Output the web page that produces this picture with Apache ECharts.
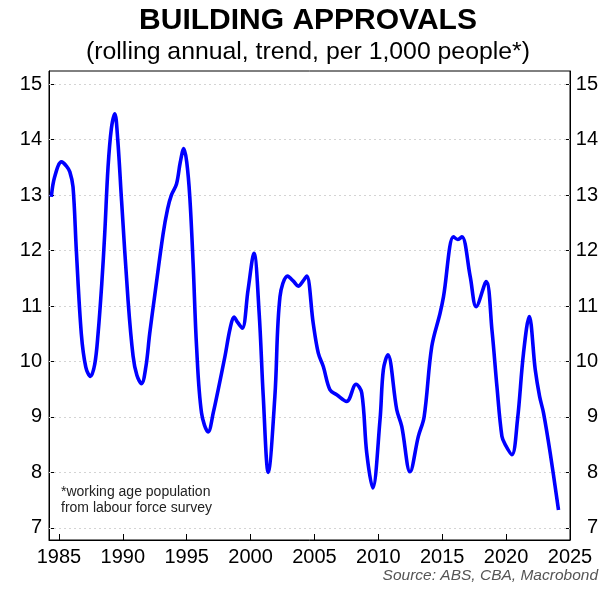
<!DOCTYPE html>
<html>
<head>
<meta charset="utf-8">
<script src="https://cdn.jsdelivr.net/npm/echarts@6/dist/echarts.min.js"></script>
<style>
html,body{margin:0;padding:0;background:#fff;}
#c{width:616px;height:595px;}
</style>
</head>
<body>
<div id="c"></div>
<script>
// Data
const years = [1984.4,1984.66,1985.2,1985.6,1985.85,1986.1,1986.36,1986.75,1987.1,1987.46,1987.8,1988.06,1988.35,1988.58,1988.84,1989.1,1989.37,1989.6,1989.9,1990.41,1990.8,1991.1,1991.46,1991.8,1992.1,1992.5,1993.15,1993.5,1993.8,1994.2,1994.5,1994.77,1995.0,1995.24,1995.5,1995.77,1996.16,1996.68,1997.1,1997.46,1997.99,1998.4,1998.7,1999.0,1999.35,1999.8,2000.26,2000.67,2000.99,2001.38,2001.9,2002.3,2002.9,2003.35,2003.73,2004.1,2004.39,2004.9,2005.3,2005.69,2006.21,2006.74,2007.52,2008.25,2008.7,2009.09,2009.56,2010.13,2010.39,2010.74,2011.44,2011.83,2012.48,2013.13,2013.58,2014.18,2014.83,2015.1,2015.88,2016.22,2016.54,2017.19,2017.66,2018.44,2018.89,2019.28,2019.67,2019.93,2020.45,2020.89,2021.36,2021.81,2022.28,2022.62,2022.93,2023.45,2024.1];
const approvals = [12.97,13.33,13.6,13.52,13.42,13.15,12.0,10.5,9.9,9.73,9.95,10.5,11.4,12.3,13.5,14.2,14.47,14.0,12.9,11.1,10.1,9.75,9.6,9.9,10.5,11.2,12.3,12.75,13.0,13.2,13.6,13.84,13.6,12.97,11.77,10.27,9.07,8.73,9.1,9.49,10.09,10.6,10.8,10.7,10.6,11.29,11.95,10.87,9.37,8.0,9.37,11.17,11.54,11.45,11.36,11.45,11.54,10.69,10.15,9.91,9.49,9.4,9.28,9.59,9.43,8.35,7.72,8.95,9.85,10.12,9.13,8.83,8.01,8.65,9.0,10.27,10.87,11.17,12.25,12.2,12.25,11.53,10.99,11.44,10.57,9.55,8.65,8.5,8.32,8.95,10.15,10.81,9.85,9.37,9.07,8.35,7.32];
const xTicks = [1985,1990,1995,2000,2005,2010,2015,2020,2025];
const yTicks = [7,8,9,10,11,12,13,14,15];

const FONT = '"Liberation Sans", Arial, sans-serif';
const chart = echarts.init(document.getElementById('c'), null, {renderer:'canvas'});

const seriesData = years.map((y,i)=>[y, approvals[i]]);

const yAxisBase = {
  type:'value', min:6.78, max:15.24,
  axisLine:{show:true, lineStyle:{color:'#000', width:1}},
  axisTick:{show:true, inside:true, length:5, customValues:yTicks, lineStyle:{color:'#000'}},
  axisLabel:{customValues:yTicks, color:'#000', fontSize:20, fontFamily:FONT, formatter:v=>String(v)},
  splitLine:{show:false}
};

chart.setOption({
  animation:false,
  backgroundColor:'#fff',
  grid:{left:49, right:46, top:71, bottom:55, show:true, borderColor:'#000', borderWidth:1, containLabel:false},
  xAxis:{
    type:'value', min:1984.22, max:2025,
    axisLine:{show:true, onZero:false, lineStyle:{color:'#000', width:1}},
    axisTick:{show:true, inside:true, length:6, customValues:xTicks, lineStyle:{color:'#000'}},
    axisLabel:{customValues:xTicks, color:'#000', fontSize:20, fontFamily:FONT, margin:7, formatter:v=>String(v)},
    splitLine:{show:false}
  },
  yAxis:[
    Object.assign({}, yAxisBase, {position:'left', axisLabel:Object.assign({}, yAxisBase.axisLabel, {margin:7})}),
    Object.assign({}, yAxisBase, {position:'right', axisLabel:Object.assign({}, yAxisBase.axisLabel, {margin:28, align:'right'})})
  ],
  series:[
    {
      type:'line', data:[], z:1, silent:true,
      markLine:{
        silent:true, symbol:'none', label:{show:false},
        lineStyle:{type:[2,3], color:'#d4d4d4', width:1},
        data: yTicks.map(v=>({yAxis:v}))
      }
    },
    {
      type:'line', data:seriesData, showSymbol:false, smooth:0.35, z:5,
      lineStyle:{color:'#0000ff', width:3.6},
      itemStyle:{color:'#0000ff'}
    }
  ],
  graphic:[
    {type:'text', left:'center', top:6, style:{text:'BUILDING APPROVALS', font:'bold 30px '+FONT, fill:'#000'}},
    {type:'text', left:'center', top:40, style:{text:'(rolling annual, trend, per 1,000 people*)', font:'24.8px '+FONT, fill:'#000'}},
    {type:'text', x:61, y:485, style:{text:'*working age population', font:'14px '+FONT, fill:'#222'}},
    {type:'text', x:61, y:501, style:{text:'from labour force survey', font:'14px '+FONT, fill:'#222'}},
    {type:'text', right:18, top:568, style:{text:'Source: ABS, CBA, Macrobond', font:'italic 15.5px '+FONT, fill:'#555'}}
  ]
});
</script>
</body>
</html>
